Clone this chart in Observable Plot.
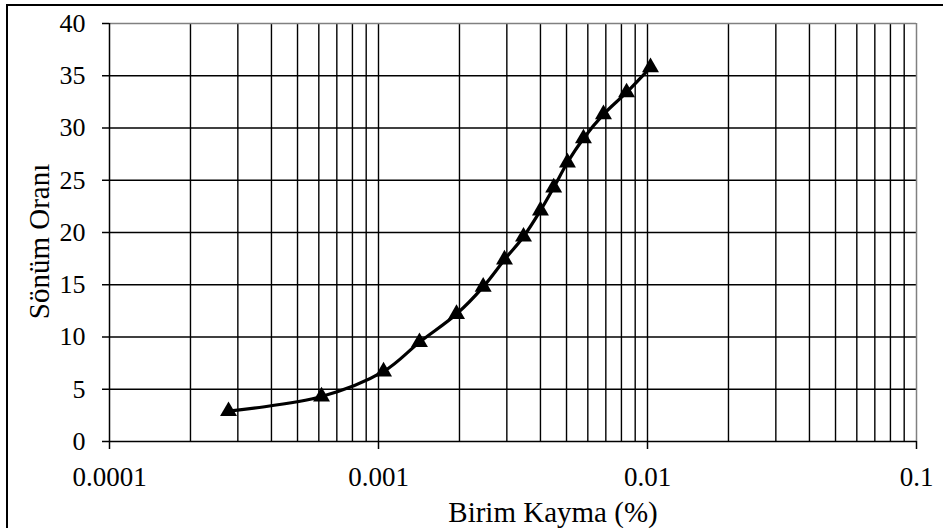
<!DOCTYPE html>
<html>
<head>
<meta charset="utf-8">
<script src="https://cdn.jsdelivr.net/npm/d3@7"></script>
<script src="https://cdn.jsdelivr.net/npm/@observablehq/plot@0.6"></script>
<style>
  html, body { margin: 0; padding: 0; background: #fff; overflow: hidden; }
  #wrap { position: relative; width: 943px; height: 528px; }
  #frame { position: absolute; left: 6px; top: 4px; width: 1000px; height: 600px;
           border-left: 2px solid #000; border-top: 2px solid #000; pointer-events: none; }
</style>
</head>
<body>
<div id="wrap"><div id="frame"></div></div>
<script>
// Data
const strain = [0.000277, 0.000614, 0.001044, 0.00142, 0.00195, 0.00245, 0.00294, 0.00346, 0.0040, 0.00448, 0.00504, 0.00578, 0.00686, 0.00836, 0.01026];
const damping = [2.9, 4.3, 6.7, 9.5, 12.2, 14.8, 17.4, 19.6, 22.1, 24.3, 26.7, 29.0, 31.3, 33.4, 35.8];

const xTicks = [0.0001, 0.001, 0.01, 0.1];
const xTickLabels = ["0.0001", "0.001", "0.01", "0.1"];
const yTicks = [0, 5, 10, 15, 20, 25, 30, 35, 40];
const xTitle = "Birim Kayma (%)";
const yTitle = "Sönüm Oranı";

const data = strain.map((x, i) => ({x, y: damping[i]}));
const xGrid = [];
for (const d of [0.0001, 0.001, 0.01]) for (let k = 1; k <= 9; k++) xGrid.push(+(d * k).toPrecision(3));

const labelFor = (d) => {
  let best = 0;
  xTicks.forEach((t, i) => { if (Math.abs(Math.log10(t) - Math.log10(d)) < Math.abs(Math.log10(xTicks[best]) - Math.log10(d))) best = i; });
  return xTickLabels[best];
};

const font = "Liberation Serif, Times New Roman, serif";

const chart = Plot.plot({
  width: 943,
  height: 528,
  marginLeft: 109,
  marginRight: 27,
  marginTop: 23,
  marginBottom: 87,
  style: {fontFamily: font, fontSize: "26px", background: "#fff", color: "#000", overflow: "visible"},
  x: {type: "log", domain: [0.0001, 0.1]},
  y: {domain: [0, 40]},
  marks: [
    Plot.ruleX(xGrid.filter(v => v > 0.0001), {stroke: "#000", strokeWidth: 1.4}),
    Plot.ruleY(yTicks.filter(v => v > 0 && v < 40), {stroke: "#000", strokeWidth: 1.4}),
    Plot.ruleY([40], {stroke: "#808080", strokeWidth: 1.5}),
    Plot.ruleX([0.1], {stroke: "#808080", strokeWidth: 1.5}),
    Plot.ruleX([0.0001], {stroke: "#000", strokeWidth: 1.5}),
    Plot.ruleY([0], {stroke: "#000", strokeWidth: 1.5}),
    Plot.axisX({ticks: xTicks, tickSize: 8, tickPadding: 17, tickFormat: labelFor, label: null, strokeWidth: 1.5, fontSize: 27}),
    Plot.axisY({ticks: yTicks, tickSize: 7, tickPadding: 17, label: null, strokeWidth: 1.5, fontSize: 26}),
    Plot.line(data, {x: "x", y: "y", curve: "catmull-rom", stroke: "#000", strokeWidth: 3.2}),
    Plot.dot(data, {x: "x", y: "y", symbol: "triangle", r: 6.3, fill: "#000", stroke: "none"}),
    Plot.text([xTitle], {frameAnchor: "bottom", textAnchor: "middle", dx: 40, dy: 71, lineAnchor: "middle", fontSize: 29, fill: "#000"}),
    Plot.text([yTitle], {frameAnchor: "left", textAnchor: "middle", dx: -70, dy: 9, rotate: -90, lineAnchor: "middle", fontSize: 29, fill: "#000"})
  ]
});
document.getElementById("wrap").prepend(chart);
</script>
</body>
</html>
